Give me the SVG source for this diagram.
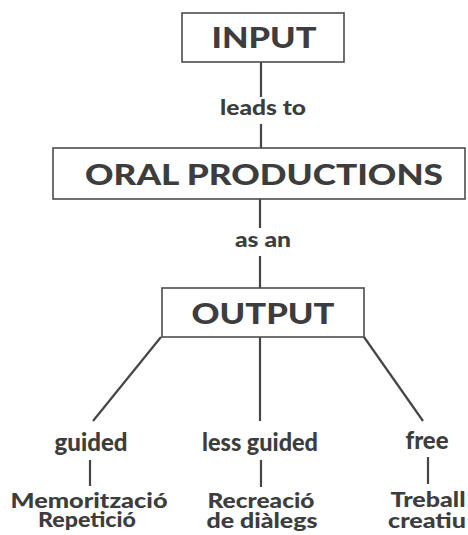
<svg xmlns="http://www.w3.org/2000/svg" width="468" height="535" viewBox="0 0 468 535">
<style>
.bg{fill:#ffffff}
.box{fill:#ffffff;stroke:#4d4d4d;stroke-width:1.6}
.t{font-family:Lato,"Open Sans","Liberation Sans",sans-serif;font-weight:900;fill:#3d3d3d;text-anchor:middle}
.big{font-size:29px}
.mid{font-size:21px}
.lab{font-size:24px}
.sm{font-size:21px}
.c line{stroke:#454545;stroke-width:2.2;stroke-linecap:butt}
</style>
<rect class="bg" x="0" y="0" width="468" height="535"/>
<g class="c" id="connectors">
<line x1="261" y1="62" x2="261" y2="97"/>
<line x1="261" y1="124" x2="261" y2="148"/>
<line x1="260" y1="199" x2="260" y2="228"/>
<line x1="260" y1="256" x2="260" y2="288"/>
<line x1="161" y1="337" x2="93" y2="421"/>
<line x1="260" y1="337" x2="260" y2="421"/>
<line x1="364" y1="337" x2="423" y2="421"/>
<line x1="90" y1="460" x2="90" y2="486"/>
<line x1="261" y1="460" x2="261" y2="487"/>
<line x1="428" y1="457" x2="428" y2="484"/>
</g>
<g id="input">
<rect class="box" x="182" y="13" width="162" height="49"/>
<text class="t big" x="264" y="48" textLength="105" lengthAdjust="spacingAndGlyphs">INPUT</text>
</g>
<g id="leads-to"><text class="t mid" x="263" y="115" textLength="86" lengthAdjust="spacingAndGlyphs">leads to</text></g>
<g id="oral">
<rect class="box" x="53" y="148" width="412" height="51"/>
<text class="t big" x="264" y="185" textLength="358" lengthAdjust="spacingAndGlyphs">ORAL PRODUCTIONS</text>
</g>
<g id="as-an"><text class="t mid" x="263" y="247" textLength="56" lengthAdjust="spacingAndGlyphs">as an</text></g>
<g id="output">
<rect class="box" x="162" y="288" width="202" height="49"/>
<text class="t big" x="263" y="324" textLength="143" lengthAdjust="spacingAndGlyphs">OUTPUT</text>
</g>
<g id="guided">
<text class="t lab" x="91" y="451" textLength="73" lengthAdjust="spacingAndGlyphs">guided</text>
<text class="t sm" x="89" y="508" textLength="157" lengthAdjust="spacingAndGlyphs">Memorització</text>
<text class="t sm" x="87" y="527" textLength="98" lengthAdjust="spacingAndGlyphs">Repetició</text>
</g>
<g id="less-guided">
<text class="t lab" x="260" y="451" textLength="116" lengthAdjust="spacingAndGlyphs">less guided</text>
<text class="t sm" x="261" y="508" textLength="107" lengthAdjust="spacingAndGlyphs">Recreació</text>
<text class="t sm" x="262" y="528" textLength="111" lengthAdjust="spacingAndGlyphs">de diàlegs</text>
</g>
<g id="free">
<text class="t lab" x="427" y="449" textLength="43" lengthAdjust="spacingAndGlyphs">free</text>
<text class="t sm" x="428" y="507" textLength="75" lengthAdjust="spacingAndGlyphs">Treball</text>
<text class="t sm" x="427" y="528" textLength="78" lengthAdjust="spacingAndGlyphs">creatiu</text>
</g>
</svg>
